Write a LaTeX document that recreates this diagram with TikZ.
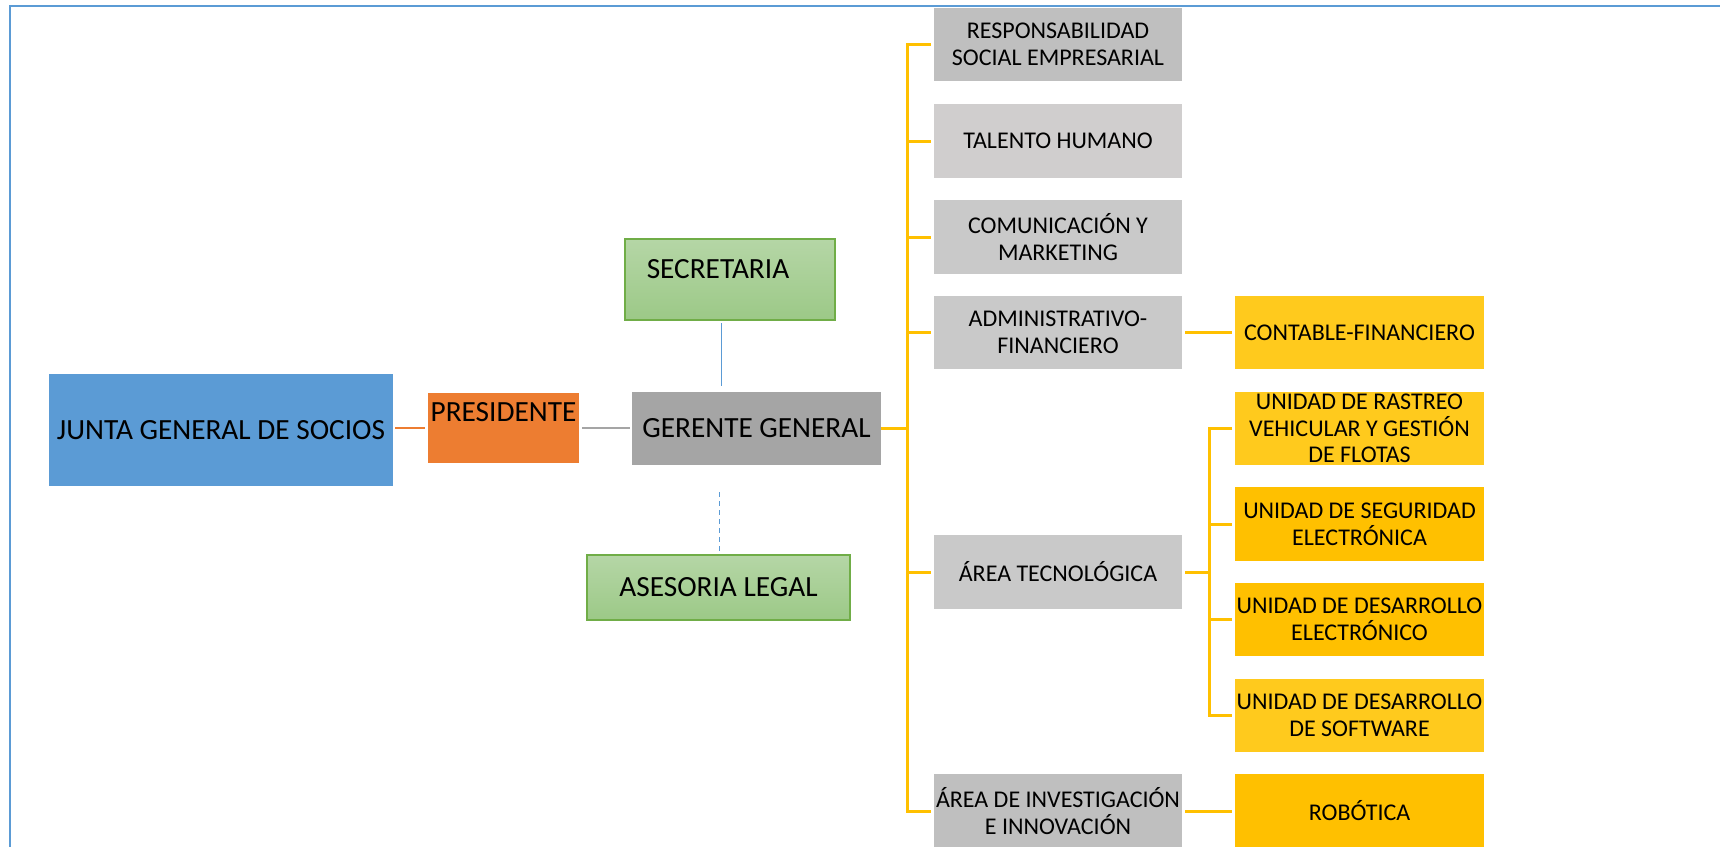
\documentclass[tikz,border=0pt]{standalone}
\usepackage{fontspec}
\setmainfont{Carlito}
\definecolor{jblue}{HTML}{5B9BD5}
\definecolor{porange}{HTML}{ED7D31}
\definecolor{ggray}{HTML}{A5A5A5}
\definecolor{gline}{HTML}{A5A5A5}
\definecolor{gtop}{HTML}{B5D6A6}
\definecolor{gbot}{HTML}{9CC987}
\definecolor{gborder}{HTML}{70AD47}
\definecolor{grayA}{HTML}{BFBFBF}
\definecolor{grayB}{HTML}{D0CECE}
\definecolor{grayC}{HTML}{C9C9C9}
\definecolor{yelA}{HTML}{FFC000}
\definecolor{yelB}{HTML}{FFCA1D}
\definecolor{yline}{HTML}{FFC000}
\begin{document}
\begin{tikzpicture}[x=1pt,y=-1pt,
  box/.style={rectangle,inner sep=0pt,outer sep=0pt,align=center,text=black},
  bigtxt/.style={font=\fontsize{29.3}{31}\selectfont},
  smalltxt/.style={font=\fontsize{24}{26.6}\selectfont},
  greenbox/.style={box,draw=gborder,line width=1.3pt,top color=gtop,bottom color=gbot},
  ylink/.style={draw=yline,line width=3pt},
  frameline/.style={draw=jblue,line width=2pt}
]
\useasboundingbox (0,0) rectangle (1720,846);
\draw[frameline] (10,850) -- (10,6) -- (1720,6);

% left part
\node[box,bigtxt,fill=jblue,minimum width=344,minimum height=112] (junta) at (221,430) {JUNTA GENERAL DE SOCIOS};
\node[box,fill=porange,minimum width=151,minimum height=70] (pres) at (503.5,428) {};
\node[box,bigtxt] (prestxt) at (503.5,412) {PRESIDENTE};
\node[box,bigtxt,fill=ggray,minimum width=249,minimum height=73] (ger) at (756.5,428.5) {GERENTE GENERAL};
\node[greenbox,minimum width=210,minimum height=81] (sec) at (730,279.5) {};
\node[box,bigtxt] (sectxt) at (718,269) {SECRETARIA};
\node[greenbox,bigtxt,minimum width=263,minimum height=65] (ase) at (718.5,587.5) {ASESORIA LEGAL};

% middle column
\node[box,smalltxt,fill=grayA,minimum width=248,minimum height=73] (rse) at (1058,44.5) {RESPONSABILIDAD\\SOCIAL EMPRESARIAL};
\node[box,smalltxt,fill=grayB,minimum width=248,minimum height=74] (tal) at (1058,141) {TALENTO HUMANO};
\node[box,smalltxt,fill=grayC,minimum width=248,minimum height=74] (com) at (1058,237) {COMUNICACIÓN Y\\MARKETING};
\node[box,smalltxt,fill=grayC,minimum width=248,minimum height=73] (adm) at (1058,332.5) {ADMINISTRATIVO-\\FINANCIERO};
\node[box,smalltxt,fill=grayC,minimum width=248,minimum height=74] (tec) at (1058,572) {ÁREA TECNOLÓGICA};
\node[box,smalltxt,fill=grayA,minimum width=248,minimum height=74] (inv) at (1058,811) {ÁREA DE INVESTIGACIÓN\\E INNOVACIÓN};

% right column
\node[box,smalltxt,fill=yelB,minimum width=249,minimum height=73] (cont) at (1359.5,332.5) {CONTABLE-FINANCIERO};
\node[box,smalltxt,fill=yelB,minimum width=249,minimum height=73] (ras) at (1359.5,428.5) {UNIDAD DE RASTREO\\VEHICULAR Y GESTIÓN\\DE FLOTAS};
\node[box,smalltxt,fill=yelA,minimum width=249,minimum height=74] (seg) at (1359.5,524) {UNIDAD DE SEGURIDAD\\ELECTRÓNICA};
\node[box,smalltxt,fill=yelA,minimum width=249,minimum height=73] (ele) at (1359.5,619.5) {UNIDAD DE DESARROLLO\\ELECTRÓNICO};
\node[box,smalltxt,fill=yelB,minimum width=249,minimum height=73] (sof) at (1359.5,715.5) {UNIDAD DE DESARROLLO\\DE SOFTWARE};
\node[box,smalltxt,fill=yelA,minimum width=249,minimum height=74] (rob) at (1359.5,811) {ROBÓTICA};

% connectors left
\draw[draw=porange,line width=2.5pt,shorten <=2pt,shorten >=3pt] (junta.east |- pres.west) -- (pres.west);
\draw[draw=gline,line width=2.5pt,shorten <=3pt,shorten >=2pt] (pres.east) -- (pres.east -| ger.west);
\coordinate (sx) at (721,0);
\draw[draw=jblue,line width=1pt,shorten <=3pt,shorten >=6pt] (sec.south -| sx) -- (ger.north -| sx);
\coordinate (dtop) at (719,492);
\draw[draw=jblue,line width=1pt,dash pattern=on 5pt off 4pt] (dtop) -- (ase.north -| dtop);

% yellow tree
\coordinate (tr) at (907,0);
\coordinate (st) at (1209,0);
\draw[ylink,shorten >=1.5pt] (ger.east) -- (ger.east -| tr);
\draw[ylink,shorten <=3pt,shorten >=3pt] (rse.west) -- (rse.west -| tr) -- (inv.west -| tr) -- (inv.west);
\foreach \n in {tal,com,adm,tec} \draw[ylink,shorten >=3pt] (\n.west -| tr) -- (\n.west);
\draw[ylink,shorten <=3pt,shorten >=3pt] (adm.east) -- (cont.west);
\draw[ylink,shorten <=3pt] (tec.east) -- (tec.east -| st);
\draw[ylink,shorten <=3pt,shorten >=3pt] (ras.west) -- (ras.west -| st) -- (sof.west -| st) -- (sof.west);
\foreach \n in {seg,ele} \draw[ylink,shorten >=3pt] (\n.west -| st) -- (\n.west);
\draw[ylink,shorten <=3pt,shorten >=3pt] (inv.east) -- (rob.west);
\end{tikzpicture}
\end{document}
